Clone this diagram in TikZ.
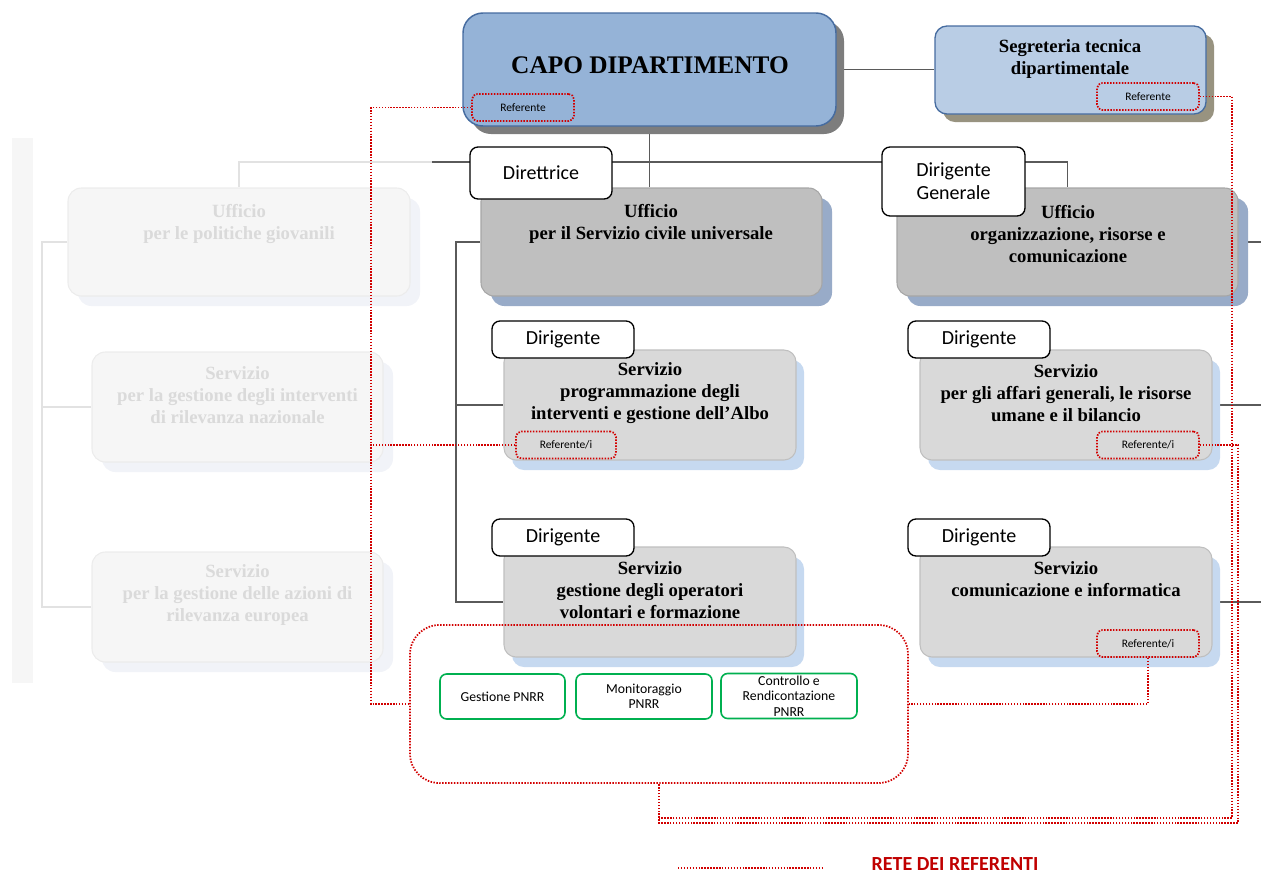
\documentclass[tikz,border=0pt]{standalone}
\usepackage{fontspec}
\setmainfont{Liberation Serif}
\newfontfamily\calibri{Carlito}
\usetikzlibrary{shadows,backgrounds}

\definecolor{capoblu}{RGB}{149,179,215}
\definecolor{capobordo}{RGB}{70,108,160}
\definecolor{capoombra}{RGB}{125,125,125}
\definecolor{segrblu}{RGB}{185,205,229}
\definecolor{segrombra}{RGB}{152,147,128}
\definecolor{uffgrigio}{RGB}{191,191,191}
\definecolor{uffbordo}{RGB}{166,166,166}
\definecolor{uffombra}{RGB}{152,171,200}
\definecolor{servgrigio}{RGB}{217,217,217}
\definecolor{servbordo}{RGB}{191,191,191}
\definecolor{servombra}{RGB}{198,217,240}
\definecolor{fadefill}{RGB}{246,246,246}
\definecolor{fadebordo}{RGB}{236,236,236}
\definecolor{fadeombra}{RGB}{241,243,248}
\definecolor{fadetesto}{RGB}{218,218,218}
\definecolor{fadelinea}{RGB}{226,226,226}
\definecolor{lineagrigia}{RGB}{90,90,90}
\definecolor{rosso}{RGB}{210,0,0}
\definecolor{rossoscuro}{RGB}{192,0,0}
\definecolor{verde}{RGB}{0,176,80}

\tikzset{
  capobox/.style={draw=capobordo, line width=1.1pt, fill=capoblu, rounded corners=15pt,
    minimum width=279.75pt, minimum height=84.75pt,
    drop shadow={shadow xshift=6pt, shadow yshift=-6pt, fill=capoombra, opacity=1}},
  segrbox/.style={draw=capobordo, line width=1pt, fill=segrblu, rounded corners=9pt,
    minimum width=203.25pt, minimum height=66pt,
    drop shadow={shadow xshift=6pt, shadow yshift=-6pt, fill=segrombra, opacity=1}},
  ufficio/.style={draw=uffbordo, line width=0.8pt, fill=uffgrigio, rounded corners=10pt,
    minimum width=255.75pt, minimum height=81pt,
    drop shadow={shadow xshift=7.5pt, shadow yshift=-7.5pt, fill=uffombra, opacity=1}},
  servizio/.style={draw=servbordo, line width=0.8pt, fill=servgrigio, rounded corners=9pt,
    minimum width=219pt, minimum height=82.5pt,
    drop shadow={shadow xshift=6pt, shadow yshift=-7.5pt, fill=servombra, opacity=1}},
  fadeuff/.style={draw=fadebordo, line width=0.8pt, fill=fadefill, rounded corners=10pt,
    minimum width=256.5pt, minimum height=81pt,
    drop shadow={shadow xshift=7.5pt, shadow yshift=-7.5pt, fill=fadeombra, opacity=1}},
  fadeserv/.style={fadeuff, minimum width=218.25pt, minimum height=82.5pt},
  dirigente/.style={draw=black, line width=1pt, fill=white, rounded corners=6pt,
    minimum width=106.5pt, minimum height=27.75pt, align=center,
    font=\calibri\fontsize{15}{17}\selectfont},
  referente/.style={draw=rosso, line width=1.3pt, dash pattern=on 1.1pt off 1.1pt,
    rounded corners=4pt, minimum width=76.5pt, minimum height=20.25pt,
    font=\calibri\fontsize{8.6}{10}\selectfont},
  pnrrbox/.style={draw=verde, line width=1.2pt, fill=white, rounded corners=5pt,
    minimum height=33.75pt, inner sep=0pt, align=center,
    font=\calibri\fontsize{10.3}{11.5}\selectfont},
  titolo/.style={align=center, font=\bfseries\fontsize{14}{16.5}\selectfont},
  fadetitolo/.style={titolo, text=fadetesto},
  linea/.style={draw=lineagrigia, line width=0.8pt},
  lineafade/.style={draw=fadelinea, line width=0.8pt},
  rete/.style={draw=rosso, line width=1.3pt, dash pattern=on 1.1pt off 1.1pt}
}

\begin{document}
\begin{tikzpicture}[x=0.75pt,y=-0.75pt]
  \useasboundingbox (0,0) rectangle (1261,876);

  % uffici sbiaditi a sinistra
  \node[fadeuff] (upg) at (239,242) {};
  \node[fadetitolo] (upg-t) at (239,224) {Ufficio\\per le politiche giovanili};
  \node[fadeserv] (srn) at (237.5,407) {};
  \node[fadetitolo] (srn-t) at (237.5,395) {Servizio\\per la gestione degli interventi\\di rilevanza nazionale};
  \node[fadeserv] (sre) at (237.5,607) {};
  \node[fadetitolo] (sre-t) at (237.5,595) {Servizio\\per la gestione delle azioni di\\rilevanza europea};

  % capo dipartimento e segreteria
  \node[capobox] (capo) at (649.5,69.5) {};
  \node[font=\bfseries\fontsize{19}{22}\selectfont] (capo-t) at (650,65) {CAPO DIPARTIMENTO};
  \node[segrbox] (segr) at (1070.5,70) {};
  \node[titolo] (segr-t) at (1070,59) {Segreteria tecnica\\dipartimentale};

  % uffici
  \node[ufficio] (usc) at (651.5,242) {};
  \node[titolo] (usc-t) at (651,224) {Ufficio\\per il Servizio civile universale};
  \node[ufficio] (uor) at (1067.5,242) {};
  \node[titolo] (uor-t) at (1068,234) {Ufficio\\organizzazione, risorse e\\comunicazione};

  % servizi
  \node[servizio] (spi) at (650,405) {};
  \node[titolo] (spi-t) at (650,393) {Servizio\\programmazione degli\\interventi e gestione dell’Albo};
  \node[servizio] (sgo) at (650,602) {};
  \node[titolo] (sgo-t) at (650,590) {Servizio\\gestione degli operatori\\volontari e formazione};
  \node[servizio] (sag) at (1066,405) {};
  \node[titolo] (sag-t) at (1066,393) {Servizio\\per gli affari generali, le risorse\\umane e il bilancio};
  \node[servizio] (sci) at (1066,602) {};
  \node[titolo] (sci-t) at (1066,579) {Servizio\\comunicazione e informatica};

  % responsabili
  \node[dirigente, minimum height=39pt] (dir-usc) at (541,173) {Direttrice};
  \node[dirigente, minimum width=107.25pt, minimum height=51.75pt] (dir-uor) at (953.5,181.5) {Dirigente\\Generale};
  \node[dirigente] (dir-spi) at (563,339.5) {Dirigente};
  \node[dirigente] (dir-sgo) at (563,537.5) {Dirigente};
  \node[dirigente] (dir-sag) at (979,339.5) {Dirigente};
  \node[dirigente] (dir-sci) at (979,537.5) {Dirigente};

  % referenti
  \node[referente] (rcapo) at (523,107.5) {Referente};
  \node[referente] (rsegr) at (1148,96.5) {Referente};
  \node[referente, minimum width=75pt] (rprog) at (566,445) {Referente/i};
  \node[referente] (raff) at (1148,445) {Referente/i};
  \node[referente] (rcom) at (1148,643.5) {Referente/i};

  % unita PNRR
  \node[draw=rosso, line width=1.3pt, dash pattern=on 1.1pt off 1.1pt, rounded corners=22pt,
    minimum width=373.5pt, minimum height=118.5pt] (pnrr) at (659,704) {};
  \node[pnrrbox, minimum width=93.75pt] (gest) at (502.5,696.5) {Gestione PNRR};
  \node[pnrrbox, minimum width=102pt] (moni) at (644,696.5) {Monitoraggio\\PNRR};
  \node[pnrrbox, minimum width=102pt] (contr) at (789,696) {Controllo e\\Rendicontazione\\PNRR};

  % organigramma
  \coordinate (hl) at (432,162);
  \coordinate (lt) at (456,242);
  \coordinate (ft) at (42,242);
  \coordinate (bordo) at (1261,0);
  \begin{scope}[on background layer]
    \fill[fadefill] (12,138) rectangle (33,683);
    \draw[lineafade] (hl) -| (upg.north);
    \draw[lineafade] (upg.west) -- (ft) |- (sre.west);
    \draw[lineafade] (ft |- srn.west) -- (srn.west);
    \draw[linea] (hl) -| (uor.north);
    \draw[linea] (capo.south) -- (capo.south |- usc.north);
    \draw[linea] (capo.east) -- (capo.east -| segr.west);
    \draw[linea] (usc.west) -- (lt) |- (sgo.west);
    \draw[linea] (lt |- spi.west) -- (spi.west);
    \draw[linea] (uor.east) -- (uor.east -| bordo);
    \draw[linea] (sag.east) -- (sag.east -| bordo);
    \draw[linea] (sci.east) -- (sci.east -| bordo);
  \end{scope}

  % rete dei referenti
  \coordinate (rj) at (371,704);
  \coordinate (ri) at (1232,818);
  \coordinate (ro) at (1238,823);
  \draw[rete] (rcapo.west) -| (rj) -- (pnrr.west);
  \draw[rete] (rprog.west) -- (rprog.west -| rj);
  \draw[rete] (rcom.south) |- (pnrr.east);
  \draw[rete] (rsegr.east) -| (ri) -- (ri -| pnrr.south);
  \draw[rete] (raff.east) -| (ro) -- (ro -| pnrr.south) -- (pnrr.south);

  % legenda
  \coordinate (lg-a) at (678,868);
  \coordinate (lg-b) at (823,868);
  \draw[rete] (lg-a) -- (lg-b);
  \node[text=rossoscuro, anchor=base, inner sep=0pt, font=\calibri\bfseries\fontsize{15}{17}\selectfont] (legenda) at (955,870) {RETE DEI REFERENTI};
\end{tikzpicture}
\end{document}
